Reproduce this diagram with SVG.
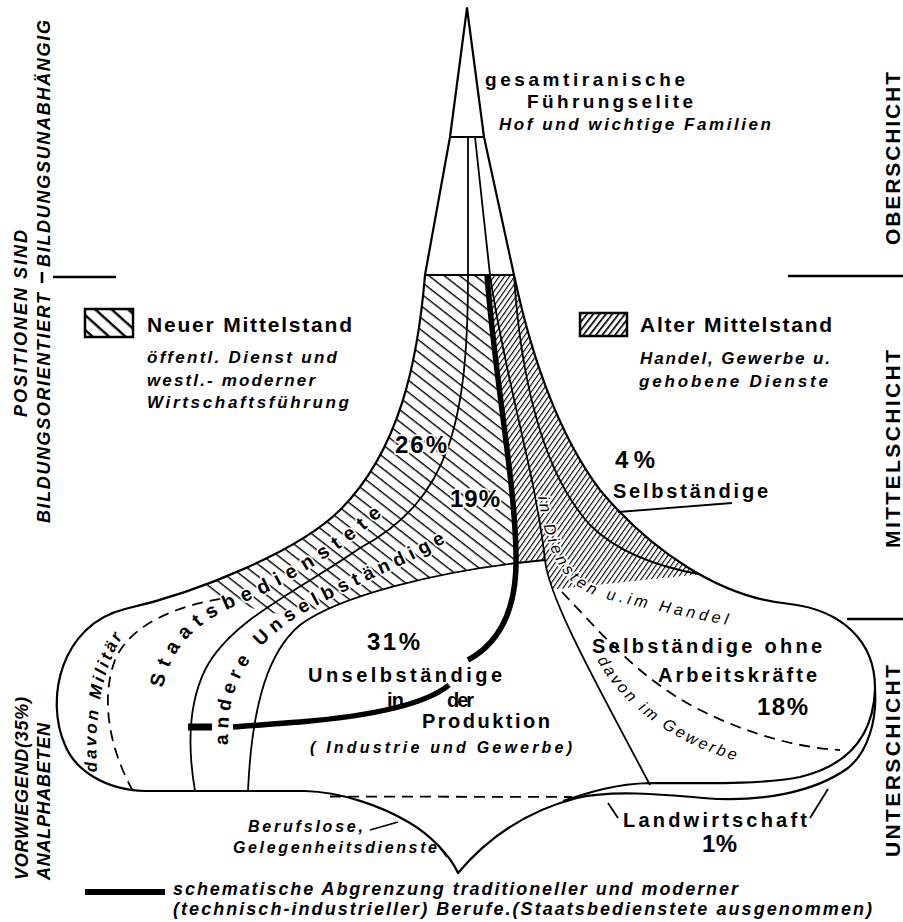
<svg xmlns="http://www.w3.org/2000/svg" xmlns:xlink="http://www.w3.org/1999/xlink" width="903" height="922" viewBox="0 0 903 922">
<defs>
<style>
.o{fill:none;stroke:#000;stroke-width:2.2;stroke-linejoin:round}
.l{fill:none;stroke:#000;stroke-width:1.8}
.d{fill:none;stroke:#000;stroke-width:1.8;stroke-dasharray:11 7}
.th{fill:none;stroke:#000;stroke-width:5.5}
text{font-family:"Liberation Sans","DejaVu Sans",Arial,sans-serif;fill:#000}
.b{font-weight:bold}
.i{font-style:italic;font-weight:bold}
.n{font-style:italic}
.h{paint-order:stroke;stroke:#fff;stroke-width:3.5;stroke-linejoin:round}
</style>
<pattern id="pl" patternUnits="userSpaceOnUse" width="20" height="9.5" patternTransform="rotate(38)"><rect x="0" y="0" width="20" height="1.4" fill="#000"/></pattern>
<pattern id="pr" patternUnits="userSpaceOnUse" width="20" height="4.2" patternTransform="rotate(-55)"><rect x="0" y="0" width="20" height="1.1" fill="#000"/></pattern>
<pattern id="pln" patternUnits="userSpaceOnUse" width="20" height="11" patternTransform="rotate(42)"><rect x="0" y="0" width="20" height="2.4" fill="#000"/></pattern>
<pattern id="prn" patternUnits="userSpaceOnUse" width="20" height="5" patternTransform="rotate(-52)"><rect x="0" y="0" width="20" height="1.7" fill="#000"/></pattern>
<path id="tpS" d="M 163,688 C 170,650 195,622 240,604 S 345,550 392,506"/>
<path id="tpA" d="M 228,745 C 226,690 245,650 300,615 C 350,585 410,565 452,538"/>
<path id="tpD" d="M 538,497 C 548,560 565,590 610,600 S 690,618 742,628"/>
<path id="tpM" d="M 97,772 C 94,720 100,668 128,628"/>
<path id="tpG" d="M 597,660 C 618,697 650,725 700,748 C 725,758 750,766 775,771"/>
</defs>

<g id="hatching">
<path d="M 425,275 C 418,360 400,450 340,510 C 312,538 254.6,567 197,587.7 L 268,614 L 330.5,607.9 C 379.1,586.4 455.4,570.2 517,563 L 516,555 C 515,480 495,380 487,275 Z" fill="url(#pl)"/>
<path d="M 487,275 C 495,380 515,480 516,555 L 517,563 L 545,560 C 545.8,568 548.5,578 552.6,589.6 L 699.3,574.2 C 662.3,553.2 628,523.6 600,490 C 555,430 530,350 514,275 Z" fill="url(#pr)"/>
</g>

<g id="connectors">
<path class="o" d="M 425,275 L 450,137 L 467,8 L 484,137 L 514,275"/>
<path class="o" d="M 450,137 L 485,137"/>
<path class="o" d="M 425,275 L 514,275"/>
<path class="o" d="M 425,275 C 418,360 400,450 340,510 C 300,550 200,592 125,609 C 60,625 45,700 65,745 C 75,770 105,790 145,791 L 305,791 C 340,792 380,805 410,823 C 430,835 450,855 458,873 C 490,835 530,810 577,798 C 610,790 660,794 703,798 C 760,803 815,792 848,768 C 868,752 877,720 875,690"/>
<path class="o" d="M 514,275 C 530,350 555,430 600,490 C 650,550 720,598 790,604 C 840,610 876,640 875,690"/>
<path class="o" d="M 875,690 C 873,735 850,765 800,777 C 760,785 700,783 650,783 C 615,784 590,792 563,801"/>
<path class="l" d="M 514,275 C 520,370 540,470 590,525 C 620,555 665,568 699.3,574.2"/>
<path class="l" d="M 475,137 L 490,275 C 505,380 535,470 545,560 C 549,600 600,690 650,785"/>
<path class="l" d="M 468,137 L 468,275 C 468,420 450,500 360,548 C 300,590 230,620 205,670 C 188,705 188,750 195,791"/>
<path class="l" d="M 545,560 L 517,563 C 440,572 340,595 300,625 C 270,650 252,700 248,791"/>
<path class="d" d="M 330,796.5 L 572,797"/>
<path class="d" d="M 133,791 C 110,750 100,700 115,660 C 130,625 175,605 232,597"/>
<path class="d" d="M 562,592 C 600,632 640,680 700,710 C 750,735 800,748 840,750"/>
<path class="th" d="M 487,275 C 495,380 515,480 516,555 C 517,600 505,640 468,660"/>
<path class="th" d="M 449,685 C 425,705 370,716 300,722 C 270,724 250,726 233,727"/>
<path class="th" d="M 188,727 L 212,727" style="stroke-width:7"/>
<path class="l" d="M 618,512 L 732,503"/>
<path class="l" d="M 370,830 L 398,822"/>
<path class="l" d="M 438,845 L 447,857"/>
<path class="l" d="M 608,803 L 618,818"/>
<path class="l" d="M 810,818 L 828,789"/>
<path class="o" d="M 53,277 L 116,277 M 42,272 L 42,283" style="stroke-width:2.6"/>
<path class="o" d="M 788,276 L 903,276" style="stroke-width:2.6"/>
<path class="o" d="M 847,619 L 903,619" style="stroke-width:2.6"/>
</g>

<g id="node-elite">
<text class="b" x="485" y="86" font-size="19" textLength="200">gesamtiranische</text>
<text class="b" x="527" y="108" font-size="19" textLength="166">Führungselite</text>
<text class="i" x="499" y="130" font-size="17" textLength="272">Hof und wichtige Familien</text>
</g>

<g id="legend-neuer">
<rect x="85" y="309" width="48" height="28" fill="url(#pln)" stroke="#000" stroke-width="2.5"/>
<text class="b" x="147" y="332" font-size="21" textLength="205">Neuer Mittelstand</text>
<text class="i" x="147" y="363" font-size="17" textLength="190">öffentl. Dienst und</text>
<text class="i" x="147" y="386" font-size="17" textLength="168">westl.- moderner</text>
<text class="i" x="147" y="408" font-size="17" textLength="202">Wirtschaftsführung</text>
</g>

<g id="legend-alter">
<rect x="580" y="313" width="47" height="23" fill="url(#prn)" stroke="#000" stroke-width="2.5"/>
<text class="b" x="640" y="332" font-size="21" textLength="192">Alter Mittelstand</text>
<text class="i" x="640" y="364" font-size="17" textLength="190">Handel, Gewerbe u.</text>
<text class="i" x="639" y="387" font-size="17" textLength="189">gehobene Dienste</text>
</g>

<g id="node-staatsbedienstete">
<text class="b h" x="395" y="453" font-size="24" textLength="52">26%</text>
<text font-size="20" class="b h"><textPath xlink:href="#tpS" href="#tpS" textLength="288">Staatsbedienstete</textPath></text>
<text class="i" font-size="17"><textPath xlink:href="#tpM" href="#tpM" textLength="140">davon Militär</textPath></text>
</g>

<g id="node-andere">
<text class="b h" x="450" y="507" font-size="24" textLength="50">19%</text>
<text font-size="19" class="b h"><textPath xlink:href="#tpA" href="#tpA" textLength="320">andere Unselbständige</textPath></text>
</g>

<g id="node-selbstaendige">
<text class="b" x="615" y="468" font-size="24" textLength="40">4%</text>
<text class="b" x="613" y="498" font-size="20" textLength="155">Selbständige</text>
<text class="n h" font-size="16"><textPath xlink:href="#tpD" href="#tpD" textLength="255">in Diensten u.im Handel</textPath></text>
</g>

<g id="node-produktion">
<text class="b" x="367" y="650" font-size="24" textLength="53">31%</text>
<text class="b" x="308" y="682" font-size="20" textLength="194">Unselbständige</text>
<text class="b" x="387" y="707" font-size="20" textLength="17">in</text>
<text class="b" x="447" y="707" font-size="20" textLength="27">der</text>
<text class="b" x="422" y="728" font-size="20" textLength="128">Produktion</text>
<text class="i" x="310" y="753" font-size="16" textLength="262">( Industrie und Gewerbe)</text>
</g>

<g id="node-ohne">
<text class="b" x="592" y="653" font-size="20" textLength="230">Selbständige ohne</text>
<text class="b" x="658" y="682" font-size="20" textLength="159">Arbeitskräfte</text>
<text class="b" x="757" y="715" font-size="24" textLength="51">18%</text>
<text class="n" font-size="16"><textPath xlink:href="#tpG" href="#tpG" textLength="175">davon im Gewerbe</textPath></text>
</g>

<g id="node-landwirtschaft">
<text class="b" x="623" y="827" font-size="20" textLength="184">Landwirtschaft</text>
<text class="b" x="702" y="852" font-size="24" textLength="35">1%</text>
</g>

<g id="node-berufslose">
<text class="i" x="248" y="832" font-size="16" textLength="115">Berufslose,</text>
<text class="i" x="233" y="853" font-size="16" textLength="204">Gelegenheitsdienste</text>
</g>

<g id="side-left">
<text class="i" font-size="18" transform="translate(27,417) rotate(-90)" textLength="187">POSITIONEN SIND</text>
<text class="i" font-size="18" transform="translate(50,267) rotate(-90)" textLength="247">BILDUNGSUNABHÄNGIG</text>
<text class="i" font-size="18" transform="translate(50,523) rotate(-90)" textLength="230">BILDUNGSORIENTIERT</text>
<text class="i" font-size="18" transform="translate(28,880) rotate(-90)" textLength="183">VORWIEGEND(35%)</text>
<text class="i" font-size="18" transform="translate(50,880) rotate(-90)" textLength="157">ANALPHABETEN</text>
</g>

<g id="side-right">
<text class="b" font-size="21" transform="translate(900,245) rotate(-90)" textLength="173">OBERSCHICHT</text>
<text class="b" font-size="21" transform="translate(900,548) rotate(-90)" textLength="198">MITTELSCHICHT</text>
<text class="b" font-size="21" transform="translate(900,857) rotate(-90)" textLength="192">UNTERSCHICHT</text>
</g>

<g id="legend-bottom">
<path class="th" d="M 85,892 L 165,892" style="stroke-width:6"/>
<text class="i" x="173" y="895" font-size="18" textLength="565">schematische Abgrenzung traditioneller und moderner</text>
<text class="i" x="173" y="915" font-size="18" textLength="699">(technisch-industrieller) Berufe.(Staatsbedienstete ausgenommen)</text>
</g>
</svg>
